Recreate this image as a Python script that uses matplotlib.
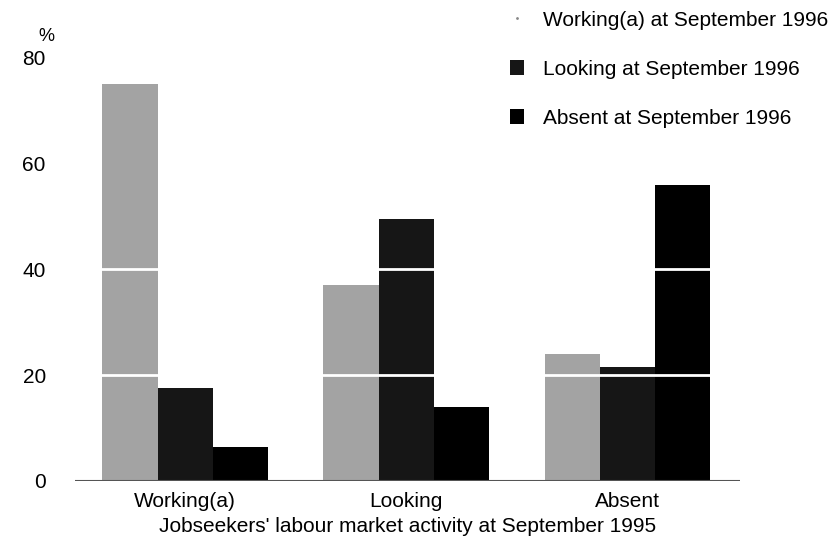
import matplotlib.pyplot as plt
import numpy as np
from matplotlib.lines import Line2D
from matplotlib.patches import Patch

plt.rcParams['font.family'] = ['Liberation Sans', 'DejaVu Sans']

groups = ["Working(a)", "Looking", "Absent"]
series = ["Working(a) at September 1996", "Looking at September 1996", "Absent at September 1996"]
working = [75, 37, 24]
looking = [17.5, 49.5, 21.5]
absent = [6.5, 14, 56]

fig = plt.figure(figsize=(8.35, 5.47), dpi=100)
ax = fig.add_axes([0.0898, 0.1207, 0.7964, 0.7733])

x = np.arange(len(groups))
w = 0.249
ax.bar(x - w, working, w, color="#a3a3a3", edgecolor="none", zorder=2)
ax.bar(x, looking, w, color="#161616", edgecolor="none", zorder=2)
ax.bar(x + w, absent, w, color="black", edgecolor="none", zorder=2)

# white grid lines cut across the bars
for yv in [20, 40]:
    ax.axhline(yv, color="white", lw=2, zorder=3)
ax.axhline(0, color="#555555", lw=1.5, zorder=4)

ax.set_xlim(-0.498, 2.511)
ax.set_ylim(0, 80)
ax.set_yticks([0, 20, 40, 60, 80])
ax.set_xticks(x)
ax.set_xticklabels(groups, fontsize=15)
ax.tick_params(axis="y", length=0, pad=21, labelsize=15)
ax.tick_params(axis="x", length=0, pad=8)
for s in ax.spines.values():
    s.set_visible(False)
ax.set_xlabel("Jobseekers' labour market activity at September 1995", fontsize=15, labelpad=4)
ax.text(-0.043, 1.03, "%", transform=ax.transAxes, fontsize=13, ha="center", va="bottom")

handles = [
    Line2D([], [], ls="none", marker=".", markersize=2, color="#888888"),
    Patch(facecolor="#161616"),
    Patch(facecolor="black"),
]
fig.legend(handles, series, loc="upper left", bbox_to_anchor=(0.588, 1.015),
           frameon=False, fontsize=15, labelspacing=1.45, handlelength=0.7,
           handleheight=0.7, handletextpad=0.9)

fig.savefig("out.png", dpi=100)
